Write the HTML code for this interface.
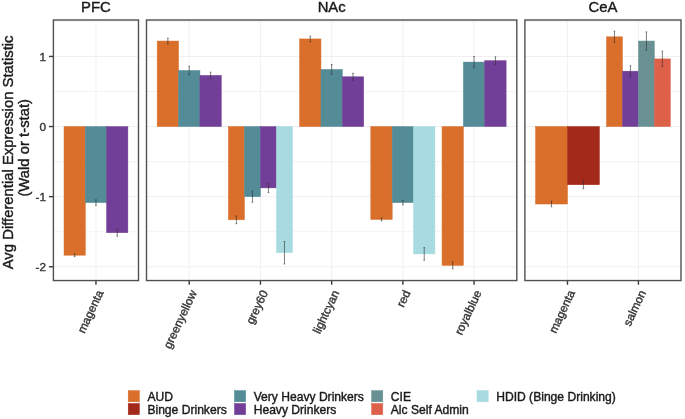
<!DOCTYPE html><html><head><meta charset="utf-8"><style>html,body{margin:0;padding:0;background:#fff;}svg{display:block;will-change:transform;}text{font-family:"Liberation Sans",sans-serif;stroke-width:0.4px;}</style></head><body>
<svg width="685" height="419" viewBox="0 0 685 419">
<rect width="685" height="419" fill="#fff"/>
<line x1="53.40" x2="138.50" y1="21.41" y2="21.41" stroke="#EEEEEE" stroke-width="0.7"/>
<line x1="53.40" x2="138.50" y1="91.51" y2="91.51" stroke="#EEEEEE" stroke-width="0.7"/>
<line x1="53.40" x2="138.50" y1="161.61" y2="161.61" stroke="#EEEEEE" stroke-width="0.7"/>
<line x1="53.40" x2="138.50" y1="231.71" y2="231.71" stroke="#EEEEEE" stroke-width="0.7"/>
<line x1="53.40" x2="138.50" y1="56.46" y2="56.46" stroke="#EEEEEE" stroke-width="0.9"/>
<line x1="53.40" x2="138.50" y1="126.56" y2="126.56" stroke="#EEEEEE" stroke-width="0.9"/>
<line x1="53.40" x2="138.50" y1="196.66" y2="196.66" stroke="#EEEEEE" stroke-width="0.9"/>
<line x1="53.40" x2="138.50" y1="266.76" y2="266.76" stroke="#EEEEEE" stroke-width="0.9"/>
<line x1="95.95" x2="95.95" y1="20.0" y2="280.55" stroke="#EEEEEE" stroke-width="0.9"/>
<rect x="64.04" y="126.56" width="21.28" height="128.63" fill="#D96F2A" stroke="#D96F2A" stroke-width="0.5"/>
<rect x="85.31" y="126.56" width="21.28" height="76.06" fill="#538C97" stroke="#538C97" stroke-width="0.5"/>
<rect x="106.59" y="126.56" width="21.28" height="106.13" fill="#723F98" stroke="#723F98" stroke-width="0.5"/>
<line x1="74.67" x2="74.67" y1="253.79" y2="256.60" stroke="#333" stroke-width="0.62"/>
<line x1="73.88" x2="75.47" y1="253.79" y2="253.79" stroke="#333" stroke-width="0.62"/>
<line x1="73.88" x2="75.47" y1="256.60" y2="256.60" stroke="#333" stroke-width="0.62"/>
<line x1="95.95" x2="95.95" y1="199.81" y2="205.42" stroke="#333" stroke-width="0.62"/>
<line x1="95.15" x2="96.75" y1="199.81" y2="199.81" stroke="#333" stroke-width="0.62"/>
<line x1="95.15" x2="96.75" y1="205.42" y2="205.42" stroke="#333" stroke-width="0.62"/>
<line x1="117.23" x2="117.23" y1="229.19" y2="236.20" stroke="#333" stroke-width="0.62"/>
<line x1="116.43" x2="118.03" y1="229.19" y2="229.19" stroke="#333" stroke-width="0.62"/>
<line x1="116.43" x2="118.03" y1="236.20" y2="236.20" stroke="#333" stroke-width="0.62"/>
<line x1="95.95" x2="95.95" y1="280.55" y2="284.75" stroke="#3a3a3a" stroke-width="1.4"/>
<text x="103.75" y="292.55" font-size="11.76" fill="#383838" stroke="#383838" text-anchor="end" transform="rotate(-65.0 103.75 292.55)">magenta</text>
<rect x="53.40" y="20.00" width="85.10" height="260.55" fill="none" stroke="#505050" stroke-width="1.4"/>
<text x="95.95" y="11.8" font-size="14.85" fill="#1a1a1a" stroke="#1a1a1a" text-anchor="middle">PFC</text>
<line x1="146.50" x2="516.80" y1="21.41" y2="21.41" stroke="#EEEEEE" stroke-width="0.7"/>
<line x1="146.50" x2="516.80" y1="91.51" y2="91.51" stroke="#EEEEEE" stroke-width="0.7"/>
<line x1="146.50" x2="516.80" y1="161.61" y2="161.61" stroke="#EEEEEE" stroke-width="0.7"/>
<line x1="146.50" x2="516.80" y1="231.71" y2="231.71" stroke="#EEEEEE" stroke-width="0.7"/>
<line x1="146.50" x2="516.80" y1="56.46" y2="56.46" stroke="#EEEEEE" stroke-width="0.9"/>
<line x1="146.50" x2="516.80" y1="126.56" y2="126.56" stroke="#EEEEEE" stroke-width="0.9"/>
<line x1="146.50" x2="516.80" y1="196.66" y2="196.66" stroke="#EEEEEE" stroke-width="0.9"/>
<line x1="146.50" x2="516.80" y1="266.76" y2="266.76" stroke="#EEEEEE" stroke-width="0.9"/>
<line x1="189.23" x2="189.23" y1="20.0" y2="280.55" stroke="#EEEEEE" stroke-width="0.9"/>
<line x1="260.44" x2="260.44" y1="20.0" y2="280.55" stroke="#EEEEEE" stroke-width="0.9"/>
<line x1="331.65" x2="331.65" y1="20.0" y2="280.55" stroke="#EEEEEE" stroke-width="0.9"/>
<line x1="402.86" x2="402.86" y1="20.0" y2="280.55" stroke="#EEEEEE" stroke-width="0.9"/>
<line x1="474.07" x2="474.07" y1="20.0" y2="280.55" stroke="#EEEEEE" stroke-width="0.9"/>
<rect x="157.18" y="41.04" width="21.36" height="85.52" fill="#D96F2A" stroke="#D96F2A" stroke-width="0.5"/>
<rect x="178.55" y="70.48" width="21.36" height="56.08" fill="#538C97" stroke="#538C97" stroke-width="0.5"/>
<rect x="199.91" y="75.39" width="21.36" height="51.17" fill="#723F98" stroke="#723F98" stroke-width="0.5"/>
<line x1="167.86" x2="167.86" y1="38.23" y2="43.84" stroke="#333" stroke-width="0.62"/>
<line x1="167.06" x2="168.66" y1="38.23" y2="38.23" stroke="#333" stroke-width="0.62"/>
<line x1="167.06" x2="168.66" y1="43.84" y2="43.84" stroke="#333" stroke-width="0.62"/>
<line x1="189.23" x2="189.23" y1="66.27" y2="74.69" stroke="#333" stroke-width="0.62"/>
<line x1="188.43" x2="190.03" y1="66.27" y2="66.27" stroke="#333" stroke-width="0.62"/>
<line x1="188.43" x2="190.03" y1="74.69" y2="74.69" stroke="#333" stroke-width="0.62"/>
<line x1="210.59" x2="210.59" y1="72.23" y2="78.54" stroke="#333" stroke-width="0.62"/>
<line x1="209.79" x2="211.39" y1="72.23" y2="72.23" stroke="#333" stroke-width="0.62"/>
<line x1="209.79" x2="211.39" y1="78.54" y2="78.54" stroke="#333" stroke-width="0.62"/>
<line x1="189.23" x2="189.23" y1="280.55" y2="284.75" stroke="#3a3a3a" stroke-width="1.4"/>
<text x="197.03" y="292.55" font-size="11.76" fill="#383838" stroke="#383838" text-anchor="end" transform="rotate(-65.0 197.03 292.55)">greenyellow</text>
<rect x="228.39" y="126.56" width="16.02" height="93.23" fill="#D96F2A" stroke="#D96F2A" stroke-width="0.5"/>
<rect x="244.42" y="126.56" width="16.02" height="70.10" fill="#538C97" stroke="#538C97" stroke-width="0.5"/>
<rect x="260.44" y="126.56" width="16.02" height="61.34" fill="#723F98" stroke="#723F98" stroke-width="0.5"/>
<rect x="276.46" y="126.56" width="16.02" height="126.18" fill="#A7DBE1" stroke="#A7DBE1" stroke-width="0.5"/>
<line x1="236.40" x2="236.40" y1="215.94" y2="223.65" stroke="#333" stroke-width="0.62"/>
<line x1="235.60" x2="237.20" y1="215.94" y2="215.94" stroke="#333" stroke-width="0.62"/>
<line x1="235.60" x2="237.20" y1="223.65" y2="223.65" stroke="#333" stroke-width="0.62"/>
<line x1="252.43" x2="252.43" y1="191.05" y2="202.27" stroke="#333" stroke-width="0.62"/>
<line x1="251.63" x2="253.23" y1="191.05" y2="191.05" stroke="#333" stroke-width="0.62"/>
<line x1="251.63" x2="253.23" y1="202.27" y2="202.27" stroke="#333" stroke-width="0.62"/>
<line x1="268.45" x2="268.45" y1="183.34" y2="192.45" stroke="#333" stroke-width="0.62"/>
<line x1="267.65" x2="269.25" y1="183.34" y2="183.34" stroke="#333" stroke-width="0.62"/>
<line x1="267.65" x2="269.25" y1="192.45" y2="192.45" stroke="#333" stroke-width="0.62"/>
<line x1="284.47" x2="284.47" y1="241.52" y2="263.96" stroke="#333" stroke-width="0.62"/>
<line x1="283.67" x2="285.27" y1="241.52" y2="241.52" stroke="#333" stroke-width="0.62"/>
<line x1="283.67" x2="285.27" y1="263.96" y2="263.96" stroke="#333" stroke-width="0.62"/>
<line x1="260.44" x2="260.44" y1="280.55" y2="284.75" stroke="#3a3a3a" stroke-width="1.4"/>
<text x="268.24" y="292.55" font-size="11.76" fill="#383838" stroke="#383838" text-anchor="end" transform="rotate(-65.0 268.24 292.55)">grey60</text>
<rect x="299.60" y="38.94" width="21.36" height="87.62" fill="#D96F2A" stroke="#D96F2A" stroke-width="0.5"/>
<rect x="320.97" y="69.43" width="21.36" height="57.13" fill="#538C97" stroke="#538C97" stroke-width="0.5"/>
<rect x="342.33" y="76.79" width="21.36" height="49.77" fill="#723F98" stroke="#723F98" stroke-width="0.5"/>
<line x1="310.29" x2="310.29" y1="36.13" y2="41.74" stroke="#333" stroke-width="0.62"/>
<line x1="309.49" x2="311.09" y1="36.13" y2="36.13" stroke="#333" stroke-width="0.62"/>
<line x1="309.49" x2="311.09" y1="41.74" y2="41.74" stroke="#333" stroke-width="0.62"/>
<line x1="331.65" x2="331.65" y1="64.52" y2="74.34" stroke="#333" stroke-width="0.62"/>
<line x1="330.85" x2="332.45" y1="64.52" y2="64.52" stroke="#333" stroke-width="0.62"/>
<line x1="330.85" x2="332.45" y1="74.34" y2="74.34" stroke="#333" stroke-width="0.62"/>
<line x1="353.01" x2="353.01" y1="73.28" y2="80.29" stroke="#333" stroke-width="0.62"/>
<line x1="352.21" x2="353.81" y1="73.28" y2="73.28" stroke="#333" stroke-width="0.62"/>
<line x1="352.21" x2="353.81" y1="80.29" y2="80.29" stroke="#333" stroke-width="0.62"/>
<line x1="331.65" x2="331.65" y1="280.55" y2="284.75" stroke="#3a3a3a" stroke-width="1.4"/>
<text x="339.45" y="292.55" font-size="11.76" fill="#383838" stroke="#383838" text-anchor="end" transform="rotate(-65.0 339.45 292.55)">lightcyan</text>
<rect x="370.82" y="126.56" width="21.36" height="92.88" fill="#D96F2A" stroke="#D96F2A" stroke-width="0.5"/>
<rect x="392.18" y="126.56" width="21.36" height="76.06" fill="#538C97" stroke="#538C97" stroke-width="0.5"/>
<rect x="413.54" y="126.56" width="21.36" height="127.37" fill="#A7DBE1" stroke="#A7DBE1" stroke-width="0.5"/>
<line x1="381.50" x2="381.50" y1="218.04" y2="220.84" stroke="#333" stroke-width="0.62"/>
<line x1="380.70" x2="382.30" y1="218.04" y2="218.04" stroke="#333" stroke-width="0.62"/>
<line x1="380.70" x2="382.30" y1="220.84" y2="220.84" stroke="#333" stroke-width="0.62"/>
<line x1="402.86" x2="402.86" y1="200.52" y2="204.72" stroke="#333" stroke-width="0.62"/>
<line x1="402.06" x2="403.66" y1="200.52" y2="200.52" stroke="#333" stroke-width="0.62"/>
<line x1="402.06" x2="403.66" y1="204.72" y2="204.72" stroke="#333" stroke-width="0.62"/>
<line x1="424.22" x2="424.22" y1="247.62" y2="260.24" stroke="#333" stroke-width="0.62"/>
<line x1="423.42" x2="425.02" y1="247.62" y2="247.62" stroke="#333" stroke-width="0.62"/>
<line x1="423.42" x2="425.02" y1="260.24" y2="260.24" stroke="#333" stroke-width="0.62"/>
<line x1="402.86" x2="402.86" y1="280.55" y2="284.75" stroke="#3a3a3a" stroke-width="1.4"/>
<text x="410.66" y="292.55" font-size="11.76" fill="#383838" stroke="#383838" text-anchor="end" transform="rotate(-65.0 410.66 292.55)">red</text>
<rect x="442.03" y="126.56" width="21.36" height="138.80" fill="#D96F2A" stroke="#D96F2A" stroke-width="0.5"/>
<rect x="463.39" y="62.07" width="21.36" height="64.49" fill="#538C97" stroke="#538C97" stroke-width="0.5"/>
<rect x="484.75" y="60.67" width="21.36" height="65.89" fill="#723F98" stroke="#723F98" stroke-width="0.5"/>
<line x1="452.71" x2="452.71" y1="261.85" y2="268.86" stroke="#333" stroke-width="0.62"/>
<line x1="451.91" x2="453.51" y1="261.85" y2="261.85" stroke="#333" stroke-width="0.62"/>
<line x1="451.91" x2="453.51" y1="268.86" y2="268.86" stroke="#333" stroke-width="0.62"/>
<line x1="474.07" x2="474.07" y1="56.46" y2="67.68" stroke="#333" stroke-width="0.62"/>
<line x1="473.27" x2="474.87" y1="56.46" y2="56.46" stroke="#333" stroke-width="0.62"/>
<line x1="473.27" x2="474.87" y1="67.68" y2="67.68" stroke="#333" stroke-width="0.62"/>
<line x1="495.44" x2="495.44" y1="56.81" y2="64.52" stroke="#333" stroke-width="0.62"/>
<line x1="494.64" x2="496.24" y1="56.81" y2="56.81" stroke="#333" stroke-width="0.62"/>
<line x1="494.64" x2="496.24" y1="64.52" y2="64.52" stroke="#333" stroke-width="0.62"/>
<line x1="474.07" x2="474.07" y1="280.55" y2="284.75" stroke="#3a3a3a" stroke-width="1.4"/>
<text x="481.87" y="292.55" font-size="11.76" fill="#383838" stroke="#383838" text-anchor="end" transform="rotate(-65.0 481.87 292.55)">royalblue</text>
<rect x="146.50" y="20.00" width="370.30" height="260.55" fill="none" stroke="#505050" stroke-width="1.4"/>
<text x="331.65" y="11.8" font-size="14.85" fill="#1a1a1a" stroke="#1a1a1a" text-anchor="middle">NAc</text>
<line x1="524.90" x2="681.00" y1="21.41" y2="21.41" stroke="#EEEEEE" stroke-width="0.7"/>
<line x1="524.90" x2="681.00" y1="91.51" y2="91.51" stroke="#EEEEEE" stroke-width="0.7"/>
<line x1="524.90" x2="681.00" y1="161.61" y2="161.61" stroke="#EEEEEE" stroke-width="0.7"/>
<line x1="524.90" x2="681.00" y1="231.71" y2="231.71" stroke="#EEEEEE" stroke-width="0.7"/>
<line x1="524.90" x2="681.00" y1="56.46" y2="56.46" stroke="#EEEEEE" stroke-width="0.9"/>
<line x1="524.90" x2="681.00" y1="126.56" y2="126.56" stroke="#EEEEEE" stroke-width="0.9"/>
<line x1="524.90" x2="681.00" y1="196.66" y2="196.66" stroke="#EEEEEE" stroke-width="0.9"/>
<line x1="524.90" x2="681.00" y1="266.76" y2="266.76" stroke="#EEEEEE" stroke-width="0.9"/>
<line x1="567.47" x2="567.47" y1="20.0" y2="280.55" stroke="#EEEEEE" stroke-width="0.9"/>
<line x1="638.43" x2="638.43" y1="20.0" y2="280.55" stroke="#EEEEEE" stroke-width="0.9"/>
<rect x="535.54" y="126.56" width="31.93" height="77.46" fill="#D96F2A" stroke="#D96F2A" stroke-width="0.5"/>
<rect x="567.47" y="126.56" width="31.93" height="58.18" fill="#A3291A" stroke="#A3291A" stroke-width="0.5"/>
<line x1="551.51" x2="551.51" y1="201.22" y2="206.82" stroke="#333" stroke-width="0.62"/>
<line x1="550.71" x2="552.31" y1="201.22" y2="201.22" stroke="#333" stroke-width="0.62"/>
<line x1="550.71" x2="552.31" y1="206.82" y2="206.82" stroke="#333" stroke-width="0.62"/>
<line x1="583.44" x2="583.44" y1="180.89" y2="188.60" stroke="#333" stroke-width="0.62"/>
<line x1="582.64" x2="584.24" y1="180.89" y2="180.89" stroke="#333" stroke-width="0.62"/>
<line x1="582.64" x2="584.24" y1="188.60" y2="188.60" stroke="#333" stroke-width="0.62"/>
<line x1="567.47" x2="567.47" y1="280.55" y2="284.75" stroke="#3a3a3a" stroke-width="1.4"/>
<text x="575.27" y="292.55" font-size="11.76" fill="#383838" stroke="#383838" text-anchor="end" transform="rotate(-65.0 575.27 292.55)">magenta</text>
<rect x="606.50" y="36.83" width="15.96" height="89.73" fill="#D96F2A" stroke="#D96F2A" stroke-width="0.5"/>
<rect x="622.46" y="71.18" width="15.96" height="55.38" fill="#723F98" stroke="#723F98" stroke-width="0.5"/>
<rect x="638.43" y="41.04" width="15.96" height="85.52" fill="#699193" stroke="#699193" stroke-width="0.5"/>
<rect x="654.39" y="58.91" width="15.96" height="67.65" fill="#DD6049" stroke="#DD6049" stroke-width="0.5"/>
<line x1="614.48" x2="614.48" y1="31.22" y2="42.44" stroke="#333" stroke-width="0.62"/>
<line x1="613.68" x2="615.28" y1="31.22" y2="31.22" stroke="#333" stroke-width="0.62"/>
<line x1="613.68" x2="615.28" y1="42.44" y2="42.44" stroke="#333" stroke-width="0.62"/>
<line x1="630.44" x2="630.44" y1="65.78" y2="76.58" stroke="#333" stroke-width="0.62"/>
<line x1="629.64" x2="631.24" y1="65.78" y2="65.78" stroke="#333" stroke-width="0.62"/>
<line x1="629.64" x2="631.24" y1="76.58" y2="76.58" stroke="#333" stroke-width="0.62"/>
<line x1="646.41" x2="646.41" y1="31.92" y2="50.15" stroke="#333" stroke-width="0.62"/>
<line x1="645.61" x2="647.21" y1="31.92" y2="31.92" stroke="#333" stroke-width="0.62"/>
<line x1="645.61" x2="647.21" y1="50.15" y2="50.15" stroke="#333" stroke-width="0.62"/>
<line x1="662.37" x2="662.37" y1="51.20" y2="66.62" stroke="#333" stroke-width="0.62"/>
<line x1="661.57" x2="663.17" y1="51.20" y2="51.20" stroke="#333" stroke-width="0.62"/>
<line x1="661.57" x2="663.17" y1="66.62" y2="66.62" stroke="#333" stroke-width="0.62"/>
<line x1="638.43" x2="638.43" y1="280.55" y2="284.75" stroke="#3a3a3a" stroke-width="1.4"/>
<text x="646.23" y="292.55" font-size="11.76" fill="#383838" stroke="#383838" text-anchor="end" transform="rotate(-65.0 646.23 292.55)">salmon</text>
<rect x="524.90" y="20.00" width="156.10" height="260.55" fill="none" stroke="#505050" stroke-width="1.4"/>
<text x="602.95" y="11.8" font-size="14.85" fill="#1a1a1a" stroke="#1a1a1a" text-anchor="middle">CeA</text>
<line x1="48.9" x2="53.4" y1="56.46" y2="56.46" stroke="#3a3a3a" stroke-width="1.4"/>
<text x="46" y="60.86" font-size="11.76" fill="#383838" stroke="#383838" text-anchor="end">1</text>
<line x1="48.9" x2="53.4" y1="126.56" y2="126.56" stroke="#3a3a3a" stroke-width="1.4"/>
<text x="46" y="130.96" font-size="11.76" fill="#383838" stroke="#383838" text-anchor="end">0</text>
<line x1="48.9" x2="53.4" y1="196.66" y2="196.66" stroke="#3a3a3a" stroke-width="1.4"/>
<text x="46" y="201.06" font-size="11.76" fill="#383838" stroke="#383838" text-anchor="end">-1</text>
<line x1="48.9" x2="53.4" y1="266.76" y2="266.76" stroke="#3a3a3a" stroke-width="1.4"/>
<text x="46" y="271.16" font-size="11.76" fill="#383838" stroke="#383838" text-anchor="end">-2</text>
<text transform="translate(13.3 152.4) rotate(-90)" font-size="14.85" fill="#1a1a1a" stroke="#1a1a1a" text-anchor="middle">Avg Differential Expression Statistic</text>
<text transform="translate(28.9 147.8) rotate(-90)" font-size="14.85" fill="#1a1a1a" stroke="#1a1a1a" text-anchor="middle">(Wald or t-stat)</text>
<rect x="128.20" y="390.60" width="11.2" height="11.2" fill="#D96F2A" stroke="#D96F2A" stroke-width="0.5"/>
<text x="147.40" y="400.80" font-size="12.1" fill="#1a1a1a" stroke="#1a1a1a">AUD</text>
<rect x="128.20" y="403.50" width="11.2" height="11.2" fill="#A3291A" stroke="#A3291A" stroke-width="0.5"/>
<text x="147.40" y="413.70" font-size="12.1" fill="#1a1a1a" stroke="#1a1a1a">Binge Drinkers</text>
<rect x="234.50" y="390.60" width="11.2" height="11.2" fill="#538C97" stroke="#538C97" stroke-width="0.5"/>
<text x="253.70" y="400.80" font-size="12.1" fill="#1a1a1a" stroke="#1a1a1a">Very Heavy Drinkers</text>
<rect x="234.50" y="403.50" width="11.2" height="11.2" fill="#723F98" stroke="#723F98" stroke-width="0.5"/>
<text x="253.70" y="413.70" font-size="12.1" fill="#1a1a1a" stroke="#1a1a1a">Heavy Drinkers</text>
<rect x="371.60" y="390.60" width="11.2" height="11.2" fill="#699193" stroke="#699193" stroke-width="0.5"/>
<text x="390.80" y="400.80" font-size="12.1" fill="#1a1a1a" stroke="#1a1a1a">CIE</text>
<rect x="371.60" y="403.50" width="11.2" height="11.2" fill="#DD6049" stroke="#DD6049" stroke-width="0.5"/>
<text x="390.80" y="413.70" font-size="12.1" fill="#1a1a1a" stroke="#1a1a1a">Alc Self Admin</text>
<rect x="477.00" y="390.60" width="11.2" height="11.2" fill="#A7DBE1" stroke="#A7DBE1" stroke-width="0.5"/>
<text x="496.20" y="400.80" font-size="12.1" fill="#1a1a1a" stroke="#1a1a1a">HDID (Binge Drinking)</text>
</svg></body></html>
